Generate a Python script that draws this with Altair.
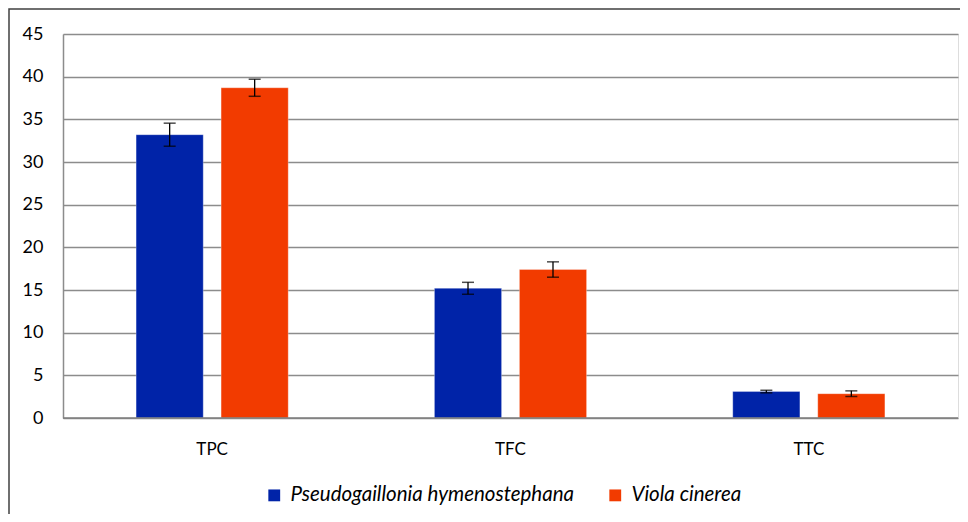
import altair as alt
import pandas as pd

categories = ["TPC", "TFC", "TTC"]
series = ["Pseudogaillonia hymenostephana", "Viola cinerea"]
values_p = [33.2, 15.2, 3.1]
errors_p = [1.35, 0.7, 0.15]
values_v = [38.7, 17.4, 2.85]
errors_v = [1.0, 0.9, 0.33]
colors = ["#0023A8", "#F23B00"]

rows = []
for i, c in enumerate(categories):
    for s, vals, errs in [(series[0], values_p, errors_p), (series[1], values_v, errors_v)]:
        rows.append({"cat": c, "series": s, "value": vals[i],
                     "lo": vals[i] - errs[i], "hi": vals[i] + errs[i]})
df = pd.DataFrame(rows)

W, H = 895, 384
FONT = "Lato"

x = alt.X("cat:N", sort=categories, title=None,
          scale=alt.Scale(paddingInner=0, paddingOuter=0),
          axis=alt.Axis(labelAngle=0, ticks=False, domain=False, labelPadding=23,
                        labelFontSize=17, labelColor="#000000", labelFont=FONT))
xoff = alt.XOffset("series:N", sort=series,
                   scale=alt.Scale(paddingInner=0.21, paddingOuter=0.86))

base = alt.Chart(df)

bars = base.mark_bar(stroke="white", strokeWidth=0.6, strokeOpacity=0.5).encode(
    x=x, xOffset=xoff,
    y=alt.Y("value:Q", title=None,
            scale=alt.Scale(domain=[0, 45], nice=False),
            axis=alt.Axis(values=list(range(0, 50, 5)), ticks=False, domain=True,
                          domainColor="#8c8c8c", domainWidth=1.5,
                          gridColor="#8c8c8c", gridWidth=1.5,
                          labelFontSize=18, labelColor="#000000", labelFont=FONT,
                          labelPadding=20)),
    color=alt.Color("series:N", sort=series,
                    scale=alt.Scale(domain=series, range=colors),
                    legend=alt.Legend(orient="none", direction="horizontal",
                                      legendX=201, legendY=67 + H, title=None,
                                      symbolType="square", symbolSize=140,
                                      symbolStrokeWidth=0,
                                      labelFontSize=20.5, labelFont=FONT,
                                      labelFontStyle="italic", labelColor="#000000",
                                      labelLimit=500,
                                      columnPadding=30, labelOffset=6)),
)

rules = base.mark_rule(color="#000000", strokeWidth=1.3).encode(
    x=x, xOffset=xoff, y="lo:Q", y2="hi:Q")
caps_hi = base.mark_tick(color="#000000", thickness=1.5, size=12).encode(
    x=x, xOffset=xoff, y="hi:Q")
caps_lo = base.mark_tick(color="#000000", thickness=1.5, size=12).encode(
    x=x, xOffset=xoff, y="lo:Q")

baseline = alt.Chart(pd.DataFrame({"v": [0]})).mark_rule(
    color="#7f7f7f", strokeWidth=1.5).encode(y="v:Q", x=alt.value(0), x2=alt.value(W))

border = alt.Chart(pd.DataFrame({"v": [0]})).mark_rect(
    fill=None, stroke="#404040", strokeWidth=1.5, clip=False).encode(
    x=alt.value(-54), x2=alt.value(W + 40),
    y=alt.value(-25), y2=alt.value(H + 200))

chart = alt.layer(border, bars, baseline, rules, caps_hi, caps_lo).properties(
    width=W, height=H,
    autosize=alt.AutoSizeParams(type="none"),
    padding={"left": 55, "top": 26, "right": 2, "bottom": 96},
).configure_view(stroke=None).configure(background="white")

chart.save("out.html", embed_options={"renderer": "svg", "actions": False})
